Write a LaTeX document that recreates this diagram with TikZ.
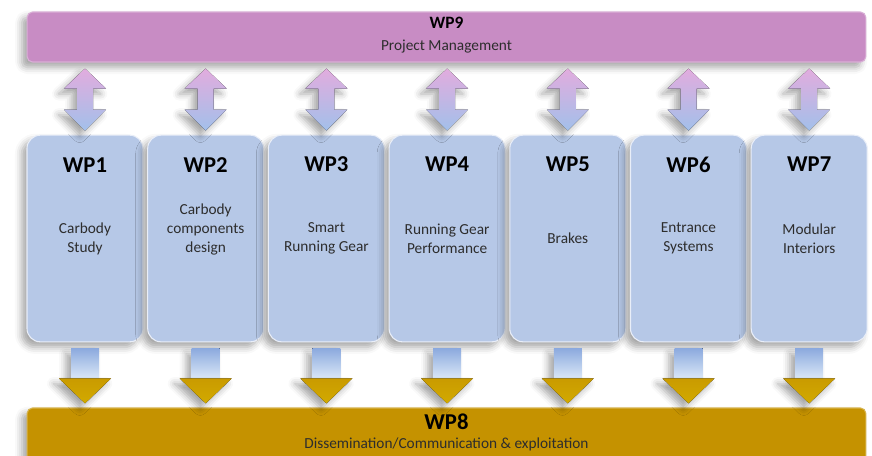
\documentclass[tikz,border=0pt]{standalone}
\usepackage{fontspec}
\setmainfont{Carlito}
\usetikzlibrary{positioning,calc,shadows.blur}
\definecolor{PmPink}{RGB}{200,140,196}
\definecolor{WpBlue}{RGB}{182,200,231}
\definecolor{DissGold}{RGB}{197,146,0}
\definecolor{ArrPink}{RGB}{226,172,222}
\definecolor{ArrLav}{RGB}{234,230,248}
\definecolor{ArrBlue}{RGB}{162,192,234}
\definecolor{ShaftBlue}{RGB}{140,170,222}
\definecolor{ShaftPale}{RGB}{218,231,247}
\definecolor{TextGray}{RGB}{45,45,45}
\tikzset{
  softshadow/.style={blur shadow={shadow xshift=-4pt,shadow yshift=-4pt,
    shadow blur radius=5pt,shadow opacity=35}},
  wpbox/.style={rounded corners=10pt,fill=WpBlue,draw=white!70!WpBlue,line width=0.8pt,
    minimum width=87pt,minimum height=155pt,softshadow},
  bar/.style={rounded corners=4pt,minimum width=629pt,line width=0.8pt,softshadow},
  head/.style={font=\fontsize{17}{20}\selectfont\bfseries},
  barhead/.style={font=\fontsize{13}{15}\selectfont\bfseries},
  desc/.style={font=\fontsize{11.5}{14.2}\selectfont,text=TextGray,align=center},
  pics/dblarrow/.style={code={
    \fill[softshadow,top color=ArrPink,middle color=ArrLav,bottom color=ArrBlue]
      (0,0) -- (21,20) -- (8,20) -- (8,41) -- (21,41) -- (0,62)
      -- (-21,41) -- (-8,41) -- (-8,20) -- (-21,20) -- cycle;
  }},
  pics/downarrow/.style={code={
    \fill[softshadow,top color=ShaftBlue,bottom color=ShaftPale]
      (-14,0) rectangle (14,30);
    \fill[softshadow,top color=DissGold!92!yellow,bottom color=DissGold!78!yellow]
      (-26,30) -- (26,30) -- (0,55) -- cycle;
  }},
}

\begin{document}
\begin{tikzpicture}[x=0.75pt,y=-0.75pt]
\useasboundingbox (0,0) rectangle (872,455);
\clip (0,0) rectangle (872,455);
% management bar
\node[bar,fill=PmPink,draw=PmPink!70!white,minimum height=37.5pt] (wp9) at (446.5,37) {};
\node[barhead] (wp9h) at (446.5,23) {WP9};
\node[desc] (wp9d) at (446.5,47) {Project Management};
% work packages
\node[wpbox] (wp1) at (85,238.5) {};
\node[wpbox] (wp2) at (205.7,238.5) {};
\node[wpbox] (wp3) at (326.4,238.5) {};
\node[wpbox] (wp4) at (447.1,238.5) {};
\node[wpbox] (wp5) at (567.8,238.5) {};
\node[wpbox] (wp6) at (688.5,238.5) {};
\node[wpbox] (wp7) at (809.2,238.5) {};
\node[head] (wp1h) at ($(wp1.north)+(0,30)$) {WP1};
\node[head] (wp2h) at ($(wp2.north)+(0,30)$) {WP2};
\node[head] (wp3h) at ($(wp3.north)+(0,30)$) {WP3};
\node[head] (wp4h) at ($(wp4.north)+(0,30)$) {WP4};
\node[head] (wp5h) at ($(wp5.north)+(0,30)$) {WP5};
\node[head] (wp6h) at ($(wp6.north)+(0,30)$) {WP6};
\node[head] (wp7h) at ($(wp7.north)+(0,30)$) {WP7};
\node[desc] (wp1d) at (wp1) {Carbody\\Study};
\node[desc] (wp2d) at ($(wp2)+(0,-9)$) {Carbody\\components\\design};
\node[desc] (wp3d) at (wp3) {Smart\\Running Gear};
\node[desc] (wp4d) at (wp4) {Running Gear\\Performance};
\node[desc] (wp5d) at (wp5) {Brakes};
\node[desc] (wp6d) at (wp6) {Entrance\\Systems};
\node[desc] (wp7d) at (wp7) {Modular\\Interiors};
% dissemination bar
\node[bar,fill=DissGold,draw=DissGold!70!white,minimum height=46.5pt] (wp8) at (446.5,439) {};
\node[head] (wp8h) at (446.5,422) {WP8};
\node[desc] (wp8d) at (446.5,444) {Dissemination/Communication \& exploitation};
% block arrows
\foreach \w in {1,...,7}{
  \path ($(wp9.south -| wp\w)+(0,6)$) pic{dblarrow};
  \path ($(wp\w.south)+(0,6)$) pic{downarrow};
}
\end{tikzpicture}
\end{document}
